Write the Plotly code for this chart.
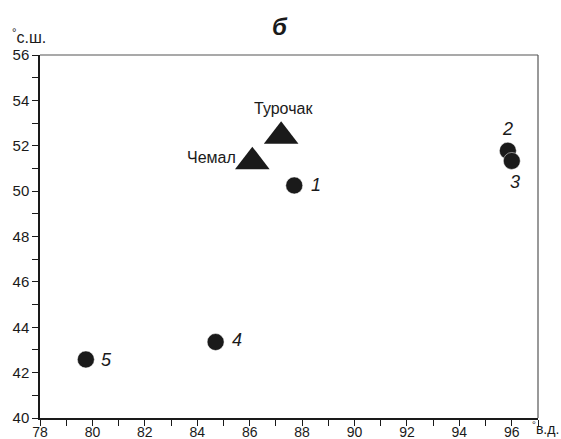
import plotly.graph_objects as go

# Sampling sites (numbered) and weather stations
site_labels = ["1", "2", "3", "4", "5"]
site_lon = [87.7, 95.85, 96.0, 84.7, 79.75]
site_lat = [50.25, 51.78, 51.33, 43.35, 42.58]

station_names = ["Турочак", "Чемал"]
station_lon = [87.2, 86.1]
station_lat = [52.42, 51.3]

FONT = "Liberation Sans, Arial, sans-serif"
NARROW = "Liberation Sans Narrow, Arial Narrow, Liberation Sans, sans-serif"
INK = "#1a1a1a"

fig = go.Figure()

fig.add_trace(go.Scatter(
    x=station_lon, y=station_lat, mode="markers",
    marker=dict(symbol="triangle-up", size=30, color=INK, line=dict(width=0)),
    hoverinfo="skip", showlegend=False, cliponaxis=False,
))
fig.add_trace(go.Scatter(
    x=site_lon, y=site_lat, mode="markers",
    marker=dict(symbol="circle", size=17, color=INK, line=dict(width=0.5, color="white")),
    hoverinfo="skip", showlegend=False, cliponaxis=False,
))

# Numbered site labels (italic)
site_offsets = {
    "1": dict(xshift=15, yshift=0, xanchor="left", yanchor="middle"),
    "2": dict(xshift=0, yshift=10, xanchor="center", yanchor="bottom"),
    "3": dict(xshift=3, yshift=-9, xanchor="center", yanchor="top"),
    "4": dict(xshift=14, yshift=2, xanchor="left", yanchor="middle"),
    "5": dict(xshift=13, yshift=-1, xanchor="left", yanchor="middle"),
}
for lab, x, y in zip(site_labels, site_lon, site_lat):
    o = site_offsets[lab]
    fig.add_annotation(x=x, y=y, text=f"<i>{lab}</i>", showarrow=False,
                       font=dict(family=FONT, size=18, color=INK), **o)

# Station names
fig.add_annotation(x=station_lon[0], y=station_lat[0], text=station_names[0], showarrow=False,
                   xshift=2, yshift=17, xanchor="center", yanchor="bottom",
                   font=dict(family=FONT, size=16, color=INK))
fig.add_annotation(x=station_lon[1], y=station_lat[1], text=station_names[1], showarrow=False,
                   xshift=-14, yshift=4, xanchor="right", yanchor="middle",
                   font=dict(family=FONT, size=16, color=INK))

# Title and axis unit labels
fig.add_annotation(xref="paper", yref="paper", x=0.482, y=1.0, yshift=29, text="<b><i>б</i></b>",
                   showarrow=False, xanchor="center", yanchor="middle",
                   font=dict(family=FONT, size=24, color=INK))
fig.add_annotation(xref="paper", yref="paper", x=0, y=1.0, xshift=-30, yshift=7,
                   text="<sup>°</sup>с.ш.", showarrow=False, xanchor="left", yanchor="bottom",
                   font=dict(family=NARROW, size=16, color=INK))
fig.add_annotation(xref="paper", yref="paper", x=1.0, y=0, xshift=23, yshift=1,
                   text="<sup>°</sup>в.д.", showarrow=False, xanchor="right", yanchor="top",
                   font=dict(family=NARROW, size=14, color=INK))

# Grey frame on top and right
fig.add_shape(type="line", xref="paper", yref="paper", x0=0, x1=1, y0=1, y1=1,
              line=dict(color="#555555", width=1.2))
fig.add_shape(type="line", xref="paper", yref="paper", x0=1, x1=1, y0=0, y1=1,
              line=dict(color="#555555", width=1.2))

axis_common = dict(
    showgrid=False, zeroline=False, showline=True, linecolor=INK, linewidth=1.5,
    ticks="outside", ticklen=6, tickwidth=1.2, tickcolor=INK, automargin=False,
)
fig.update_xaxes(range=[78, 97], tick0=78, dtick=2, ticklabelstandoff=-6,
                 tickfont=dict(family=NARROW, size=14, color=INK),
                 minor=dict(dtick=1, tick0=78, ticks="outside", ticklen=6, tickcolor=INK),
                 **axis_common)
fig.update_yaxes(range=[40, 56], tick0=40, dtick=2,
                 tickfont=dict(family=NARROW, size=15, color=INK),
                 minor=dict(dtick=1, tick0=40, ticks="outside", ticklen=6, tickcolor=INK),
                 **axis_common)

fig.update_layout(
    width=561, height=439,
    margin=dict(l=40, r=23, t=55, b=21),
    plot_bgcolor="white", paper_bgcolor="white",
    font=dict(family=FONT),
)

fig.write_html("out.html")
